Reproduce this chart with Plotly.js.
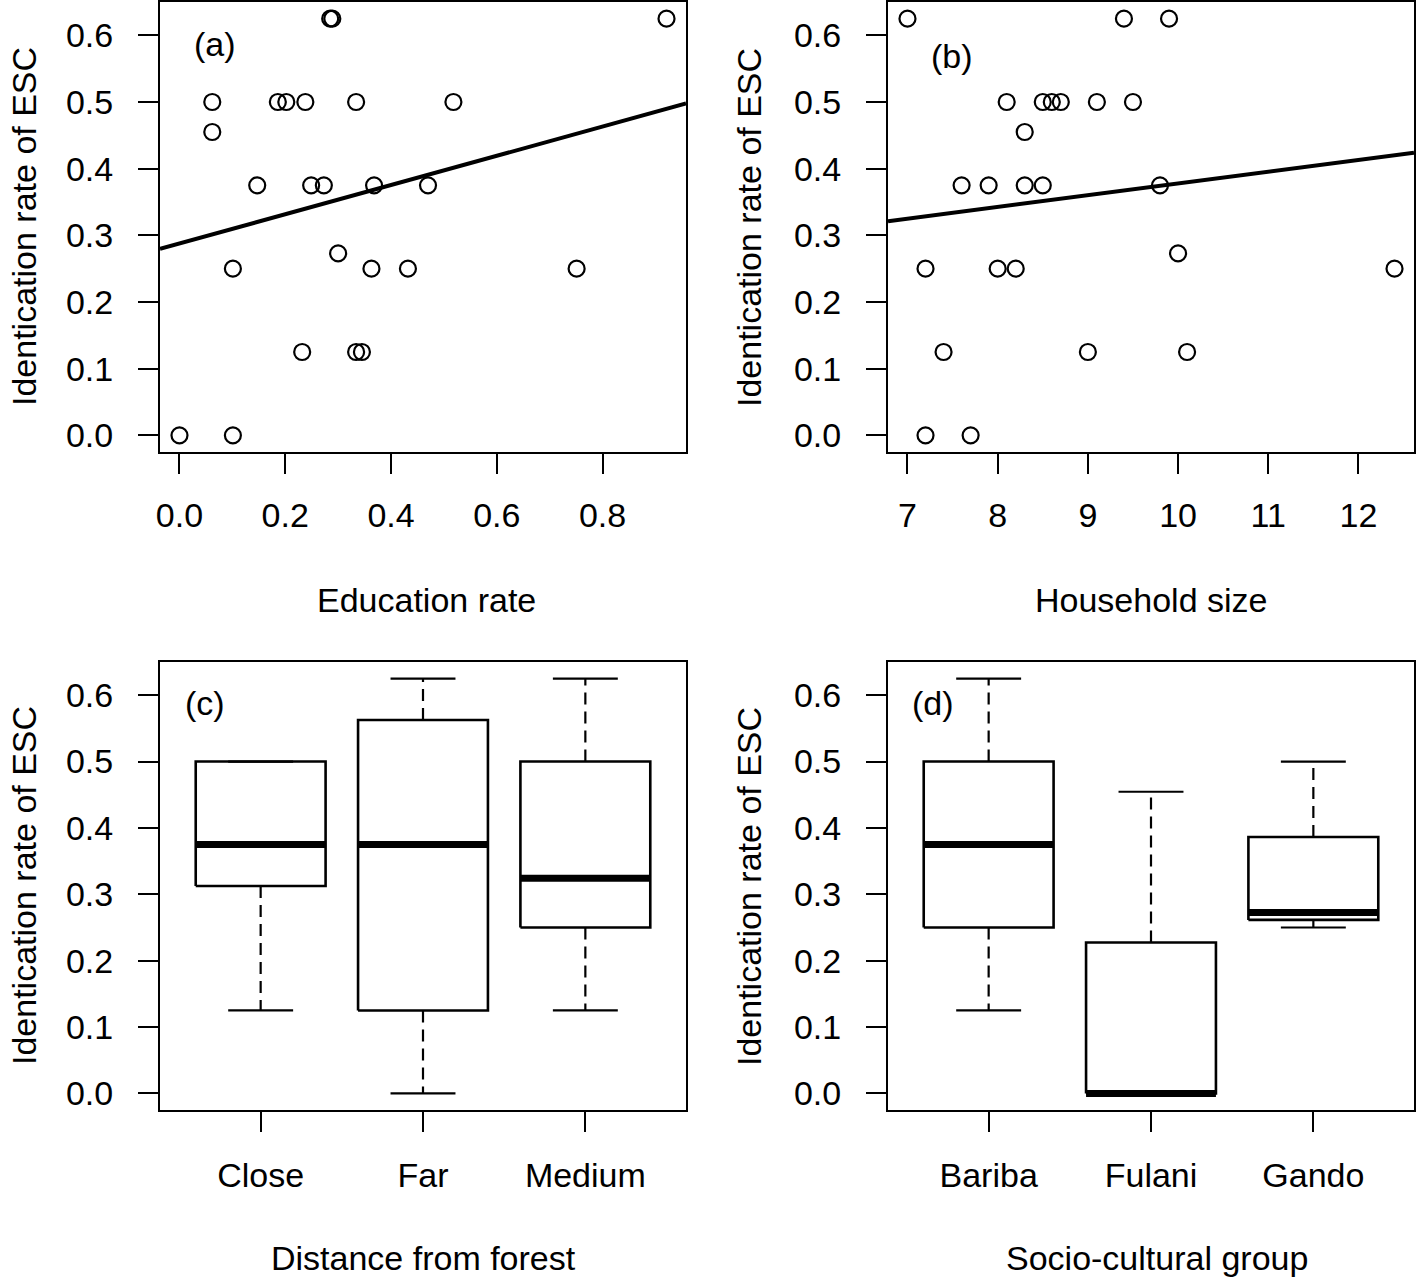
<!DOCTYPE html>
<html>
<head>
<meta charset="utf-8">
<script src="https://cdn.plot.ly/plotly-3.0.1.min.js"></script>
<style>
  html, body { margin: 0; padding: 0; background: #fff; }
  #chart { width: 1418px; height: 1281px; }
</style>
</head>
<body>
<div id="chart"></div>
<script>
// (a) education rate vs identification rate
var eduRate = [0, 0.101, 0.101, 0.062, 0.062, 0.147, 0.186, 0.202, 0.238, 0.334, 0.518, 0.285, 0.289,
  0.921, 0.249, 0.273, 0.368, 0.470, 0.300, 0.363, 0.432, 0.751, 0.232, 0.334, 0.345];
var idRateA = [0, 0, 0.25, 0.5, 0.455, 0.375, 0.5, 0.5, 0.5, 0.5, 0.5, 0.625, 0.625,
  0.625, 0.375, 0.375, 0.375, 0.375, 0.273, 0.25, 0.25, 0.25, 0.125, 0.125, 0.125];

// (b) household size vs identification rate
var hhSize = [7.0, 9.4, 9.9, 8.1, 8.5, 8.6, 8.7, 9.1, 9.5, 8.3, 7.6, 7.9, 8.3, 8.5, 9.8,
  10.0, 7.2, 8.0, 8.2, 12.4, 7.4, 9.0, 10.1, 7.2, 7.7];
var idRateB = [0.625, 0.625, 0.625, 0.5, 0.5, 0.5, 0.5, 0.5, 0.5, 0.455, 0.375, 0.375, 0.375, 0.375, 0.375,
  0.273, 0.25, 0.25, 0.25, 0.25, 0.125, 0.125, 0.125, 0, 0];

// (c) boxplot stats by distance from forest
var distGroups = ["Close", "Far", "Medium"];
var distLower = [0.125, 0, 0.125];
var distQ1 = [0.3125, 0.125, 0.25];
var distMedian = [0.375, 0.375, 0.324];
var distQ3 = [0.5, 0.5625, 0.5];
var distUpper = [0.5, 0.625, 0.625];

// (d) boxplot stats by socio-cultural group
var socGroups = ["Bariba", "Fulani", "Gando"];
var socLower = [0.125, 0, 0.25];
var socQ1 = [0.25, 0, 0.2614];
var socMedian = [0.375, 0, 0.2727];
var socQ3 = [0.5, 0.2273, 0.3864];
var socUpper = [0.625, 0.4545, 0.5];

var yTicks = [0, 0.1, 0.2, 0.3, 0.4, 0.5, 0.6];
var eduTicks = [0, 0.2, 0.4, 0.6, 0.8];
var hhTicks = [7, 8, 9, 10, 11, 12];

var W = 1418, H = 1281;
var FONT = "Liberation Sans, Arial, Helvetica, sans-serif";
var FS = 34;

function px(x) { return x / W; }
function py(y) { return 1 - y / H; }

// same as R's default 4% axis padding
function rRange(vals) {
  var mn = Math.min.apply(null, vals), mx = Math.max.apply(null, vals);
  var d = (mx - mn) * 0.04;
  return [mn - d, mx + d];
}

// least squares fit, y = a + b x
function lmFit(x, y) {
  var n = x.length, mx = 0, my = 0;
  for (var i = 0; i < n; i++) { mx += x[i]; my += y[i]; }
  mx /= n; my /= n;
  var sxy = 0, sxx = 0;
  for (var i = 0; i < n; i++) {
    sxy += (x[i] - mx) * (y[i] - my);
    sxx += (x[i] - mx) * (x[i] - mx);
  }
  var b = sxy / sxx;
  return { a: my - b * mx, b: b };
}

function scatterTraces(x, y, xa, ya, xr) {
  var fit = lmFit(x, y);
  return [
    {
      x: x, y: y, xaxis: xa, yaxis: ya, type: "scatter", mode: "markers",
      marker: { symbol: "circle-open", size: 16, color: "black", line: { width: 2.2, color: "black" } },
      showlegend: false, hoverinfo: "skip"
    },
    {
      x: [xr[0], xr[1]], y: [fit.a + fit.b * xr[0], fit.a + fit.b * xr[1]],
      xaxis: xa, yaxis: ya, type: "scatter", mode: "lines",
      line: { color: "black", width: 4 }, showlegend: false, hoverinfo: "skip"
    }
  ];
}

// R-style boxplot built from the stats arrays
function boxTraces(lower, q1, med, q3, upper, xa, ya) {
  var bx = [], by = [], wx = [], wy = [], cx = [], cy = [], mx = [], my = [];
  var hw = 0.4, cw = 0.2;
  for (var i = 0; i < med.length; i++) {
    var p = i + 1;
    bx.push(p - hw, p + hw, p + hw, p - hw, p - hw, null);
    by.push(q1[i], q1[i], q3[i], q3[i], q1[i], null);
    if (upper[i] > q3[i]) { wx.push(p, p, null); wy.push(q3[i], upper[i], null); }
    if (lower[i] < q1[i]) { wx.push(p, p, null); wy.push(q1[i], lower[i], null); }
    cx.push(p - cw, p + cw, null, p - cw, p + cw, null);
    cy.push(upper[i], upper[i], null, lower[i], lower[i], null);
    mx.push(p - hw, p + hw, null);
    my.push(med[i], med[i], null);
  }
  var base = { xaxis: xa, yaxis: ya, type: "scatter", mode: "lines", showlegend: false, hoverinfo: "skip" };
  return [
    Object.assign({ x: wx, y: wy, line: { color: "black", width: 2.2, dash: "12px,7px" } }, base),
    Object.assign({ x: cx, y: cy, line: { color: "black", width: 2.2 } }, base),
    Object.assign({ x: bx, y: by, line: { color: "black", width: 2.6 } }, base),
    Object.assign({ x: mx, y: my, line: { color: "black", width: 7 } }, base)
  ];
}

var yRange = rRange(idRateA.concat(idRateB));
var xRangeA = rRange(eduRate);
var xRangeB = rRange(hhSize);
var boxRange = [0.5 - 0.12, 3.5 + 0.12];

var data = []
  .concat(scatterTraces(eduRate, idRateA, "x", "y", xRangeA))
  .concat(scatterTraces(hhSize, idRateB, "x2", "y2", xRangeB))
  .concat(boxTraces(distLower, distQ1, distMedian, distQ3, distUpper, "x3", "y3"))
  .concat(boxTraces(socLower, socQ1, socMedian, socQ3, socUpper, "x4", "y4"));

function axis(extra) {
  return Object.assign({
    showline: true, mirror: true, linecolor: "black", linewidth: 2,
    ticks: "outside", ticklen: 20, tickwidth: 2, tickcolor: "black",
    showgrid: false, zeroline: false, fixedrange: true,
    tickfont: { family: FONT, size: FS, color: "black" }
  }, extra);
}

var domLeft = [px(160), px(686)], domRight = [px(888), px(1414)];
var domTop = [py(452), py(2)], domBottom = [py(1110), py(662)];

function yAxis(dom, anchor) {
  return axis({ domain: dom, anchor: anchor, range: yRange, tickvals: yTicks, tickformat: ".1f", ticklabelstandoff: 18 });
}

var layout = {
  width: W, height: H,
  margin: { l: 0, r: 0, t: 0, b: 0 },
  paper_bgcolor: "white", plot_bgcolor: "white",
  showlegend: false,
  font: { family: FONT, size: FS, color: "black" },
  xaxis: axis({ domain: domLeft, anchor: "y", range: xRangeA, tickvals: eduTicks, tickformat: ".1f", ticklabelstandoff: 12 }),
  yaxis: yAxis(domTop, "x"),
  xaxis2: axis({ domain: domRight, anchor: "y2", range: xRangeB, tickvals: hhTicks, ticklabelstandoff: 12 }),
  yaxis2: yAxis(domTop, "x2"),
  xaxis3: axis({ domain: domLeft, anchor: "y3", range: boxRange, tickvals: [1, 2, 3], ticktext: distGroups, ticklabelstandoff: 14 }),
  yaxis3: yAxis(domBottom, "x3"),
  xaxis4: axis({ domain: domRight, anchor: "y4", range: boxRange, tickvals: [1, 2, 3], ticktext: socGroups, ticklabelstandoff: 14 }),
  yaxis4: yAxis(domBottom, "x4"),
  annotations: []
};

function label(text, x, y, angle) {
  layout.annotations.push({
    text: text, xref: "paper", yref: "paper", x: px(x), y: py(y),
    xanchor: "center", yanchor: "middle", showarrow: false, textangle: angle || 0,
    font: { family: FONT, size: FS, color: "black" }
  });
}

// axis titles
label("Education rate", 427, 600);
label("Household size", 1151, 600);
label("Distance from forest", 424, 1258);
label("Socio-cultural group", 1157, 1258);
label("Identication rate of ESC", 24, 227, -90);
label("Identication rate of ESC", 749, 227, -90);
label("Identication rate of ESC", 24, 886, -90);
label("Identication rate of ESC", 749, 886, -90);

// panel letters
label("(a)", 215, 44);
label("(b)", 952, 56);
label("(c)", 205, 703);
label("(d)", 933, 703);

Plotly.newPlot("chart", data, layout, { staticPlot: true, displayModeBar: false });
</script>
</body>
</html>
